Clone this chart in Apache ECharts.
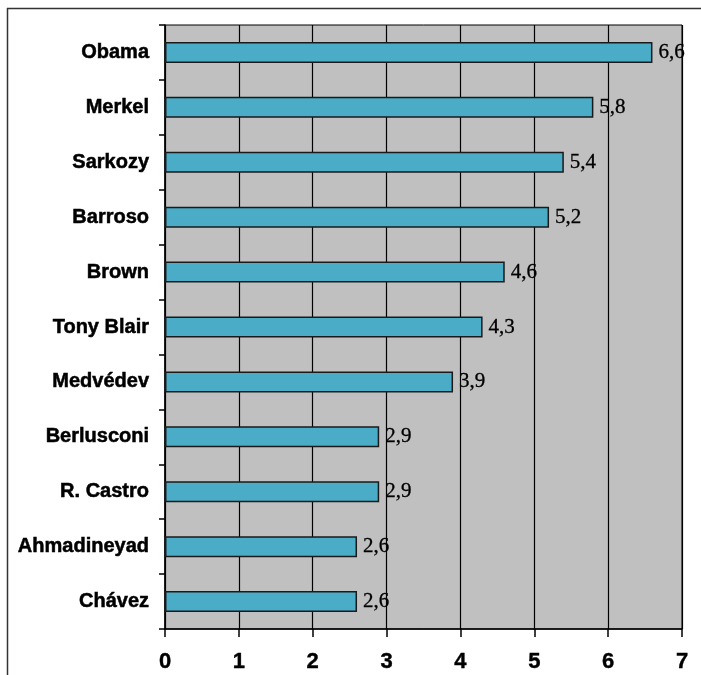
<!DOCTYPE html>
<html>
<head>
<meta charset="utf-8">
<script src="https://cdn.jsdelivr.net/npm/echarts@6/dist/echarts.min.js"></script>
<style>
  html, body { margin: 0; padding: 0; background: #fff; }
  #chart { width: 701px; height: 675px; }
</style>
</head>
<body>
<div id="chart"></div>
<script>
// Leaders, listed top to bottom, with their average rating
const leaders = ['Obama', 'Merkel', 'Sarkozy', 'Barroso', 'Brown', 'Tony Blair', 'Medvédev', 'Berlusconi', 'R. Castro', 'Ahmadineyad', 'Chávez'];
const ratings = [6.6, 5.8, 5.4, 5.2, 4.6, 4.3, 3.9, 2.9, 2.9, 2.6, 2.6];
const axisTicks = [0, 1, 2, 3, 4, 5, 6, 7];

const chart = echarts.init(document.getElementById('chart'), null, { renderer: 'canvas' });

chart.setOption({
  animation: false,
  backgroundColor: '#ffffff',
  grid: {
    left: 165, right: 19, top: 25, bottom: 46,
    show: true,
    backgroundColor: '#c0c0c0',
    borderColor: '#000000',
    borderWidth: 1
  },
  xAxis: {
    type: 'value',
    min: axisTicks[0],
    max: axisTicks[axisTicks.length - 1],
    interval: 1,
    axisLine: { show: true, lineStyle: { color: '#000', width: 1.5 } },
    axisTick: { show: true, length: 8, lineStyle: { color: '#000', width: 1.5 } },
    splitLine: { show: true, lineStyle: { color: '#000', width: 1.2 } },
    axisLabel: {
      margin: 22,
      color: '#000',
      fontFamily: 'Liberation Sans, Arial, sans-serif',
      fontWeight: 'bold',
      fontSize: 22,
      textBorderColor: '#000',
      textBorderWidth: 0.4
    }
  },
  yAxis: {
    type: 'category',
    inverse: true,
    data: leaders,
    axisLine: { show: true, lineStyle: { color: '#000', width: 1.5 } },
    axisTick: { show: true, length: 6, alignWithLabel: false, lineStyle: { color: '#000', width: 1.5 } },
    axisLabel: {
      margin: 16,
      color: '#000',
      fontFamily: 'Liberation Sans, Arial, sans-serif',
      fontWeight: 'bold',
      fontSize: 20,
      textBorderColor: '#000',
      textBorderWidth: 0.5
    }
  },
  series: [{
    type: 'bar',
    data: ratings,
    barWidth: 21,
    itemStyle: {
      color: '#4aacc6',
      borderColor: '#1a1a1a',
      borderWidth: 1.5
    },
    label: {
      show: true,
      position: 'right',
      distance: 6,
      color: '#000',
      fontFamily: 'Liberation Serif, Times New Roman, serif',
      fontSize: 21,
      textBorderColor: '#000',
      textBorderWidth: 0.3,
      formatter: p => String(p.value).replace('.', ',')
    }
  }],
  graphic: [
    // outer frame: top and left edges
    { type: 'line', shape: { x1: 7, y1: 8.5, x2: 701, y2: 8.5 }, style: { stroke: '#333', lineWidth: 1.5 } },
    { type: 'line', shape: { x1: 7.5, y1: 8, x2: 7.5, y2: 675 }, style: { stroke: '#333', lineWidth: 1.5 } }
  ]
});
</script>
</body>
</html>
